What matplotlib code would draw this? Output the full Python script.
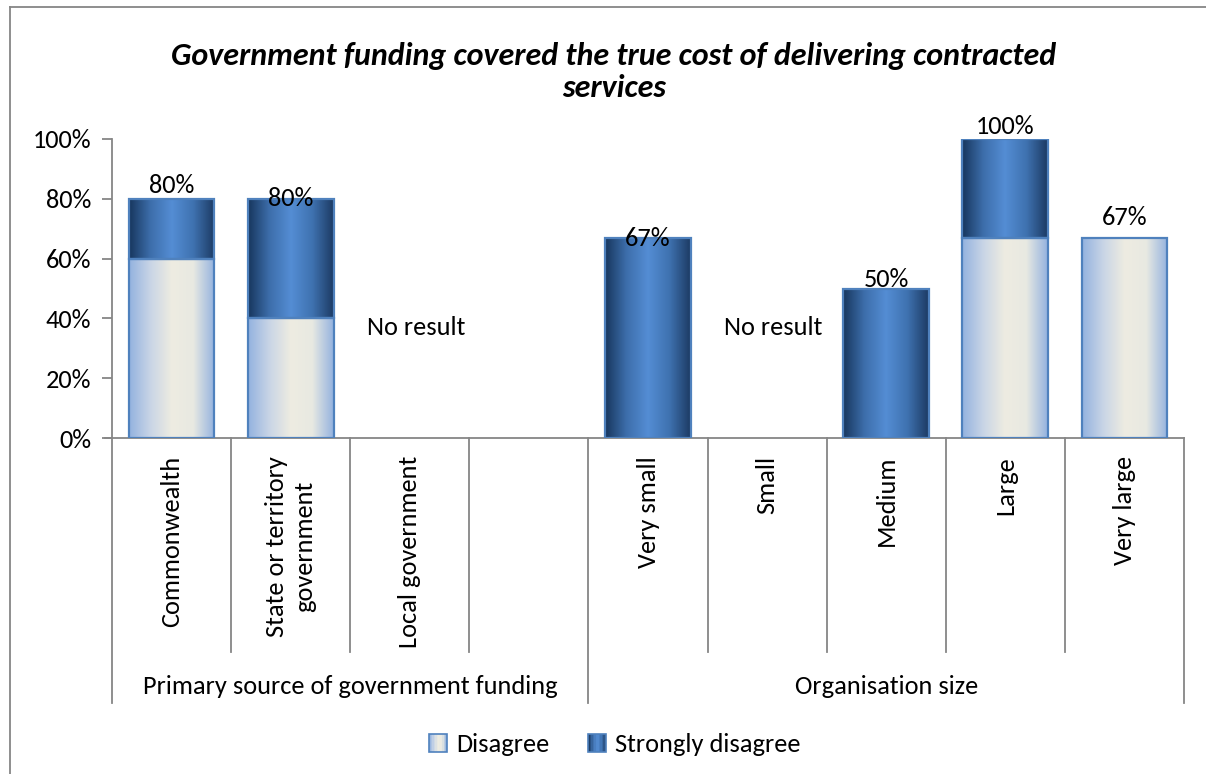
import numpy as np
import matplotlib
matplotlib.use("Agg")
import matplotlib.pyplot as plt
from matplotlib import font_manager as fm
from matplotlib.colors import LinearSegmentedColormap
from matplotlib.patches import Rectangle, Patch
from matplotlib.lines import Line2D
from matplotlib.legend_handler import HandlerBase
from matplotlib.transforms import blended_transform_factory

# ---------------- data ----------------
title = "Government funding covered the true cost of delivering contracted\nservices"
categories = ["Commonwealth", "State or territory\ngovernment", "Local government", "",
              "Very small", "Small", "Medium", "Large", "Very large"]
groups = ["Primary source of government funding", "Organisation size"]
group_spans = [(0, 3), (4, 8)]          # first and last category index of each group
disagree = [0.60, 0.40, 0.0, 0.0, 0.0, 0.0, 0.0, 0.67, 0.67]
strongly_disagree = [0.20, 0.40, 0.0, 0.0, 0.67, 0.0, 0.50, 0.33, 0.0]
no_result = ["Local government", "Small"]
series_names = ["Disagree", "Strongly disagree"]
yticks = [0, 0.2, 0.4, 0.6, 0.8, 1.0]
ytick_labels = ["0%", "20%", "40%", "60%", "80%", "100%"]

# label vertical nudges (pixels, centre of label relative to bar top) - style only
label_dy = [13, 0, 0, 0, -1, 0, 9, 12, 20]

# ---------------- fonts ----------------
avail = {f.name for f in fm.fontManager.ttflist}
font = "Lato"
for cand in ["Carlito", "Calibri", "Lato", "Open Sans"]:
    if cand in avail:
        font = cand
        break
plt.rcParams["font.family"] = [font, "DejaVu Sans"]
FS = 19 if font in ("Carlito", "Calibri") else 17.3
TFS = 23 if font in ("Carlito", "Calibri") else 20.6

W, H = 1206, 774
fig = plt.figure(figsize=(W / 100, H / 100), dpi=100)
x_left, x_right, y_base, y_top = 112, 1184, 438, 139
ax = fig.add_axes([x_left / W, 1 - y_base / H, (x_right - x_left) / W, (y_base - y_top) / H])

GRAY = "#868686"
EDGE = "#4f81bd"
cm_dis = LinearSegmentedColormap.from_list("dis", ["#93b2df", "#c9d5e6", "#eeece1", "#e8e9e2", "#93b2df"])
cm_str = LinearSegmentedColormap.from_list("str", ["#17365d", "#3d6eab", "#548dd4", "#3f72b0", "#1c3a63"])
grad = np.linspace(0, 1, 256).reshape(1, -1)

x = np.arange(len(categories))
width = 0.72
b1 = ax.bar(x, disagree, width, facecolor="none", edgecolor=EDGE, linewidth=1.6, zorder=3)
b2 = ax.bar(x, strongly_disagree, width, bottom=disagree, facecolor="none",
            edgecolor=EDGE, linewidth=1.6, zorder=3)

for bars, cmap in ((b1, cm_dis), (b2, cm_str)):
    for p in bars:
        if p.get_height() <= 0:
            p.set_visible(False)
            continue
        x0, y0 = p.get_x(), p.get_y()
        im = ax.imshow(grad, extent=[x0, x0 + p.get_width(), y0, y0 + p.get_height()],
                       aspect="auto", cmap=cmap, interpolation="bilinear", zorder=2)
        im.set_clip_path(p)

ax.set_xlim(-0.5, len(categories) - 0.5)
ax.set_ylim(0, 1)
ax.set_aspect("auto")

# data labels
for i, (d, s) in enumerate(zip(disagree, strongly_disagree)):
    tot = d + s
    if tot > 0:
        ax.annotate(f"{round(tot * 100):.0f}%", (i, tot), xytext=(0, label_dy[i] * 0.72),
                    textcoords="offset points", ha="center", va="center",
                    fontsize=FS, zorder=5, annotation_clip=False)

for name in no_result:
    i = categories.index(name)
    ax.text(i + 0.05, 0.37, "No result", ha="center", va="center", fontsize=FS)

# axes styling
for s in ("top", "right"):
    ax.spines[s].set_visible(False)
ax.spines["left"].set_color(GRAY)
ax.spines["bottom"].set_color(GRAY)
ax.spines["left"].set_linewidth(1.3)
ax.spines["bottom"].set_linewidth(1.3)
ax.set_yticks(yticks)
ax.set_yticklabels(ytick_labels)
ax.tick_params(axis="y", length=7, width=1.3, color=GRAY, labelsize=FS, pad=8)
ax.set_xticks([])

# category axis with separators
tr = blended_transform_factory(ax.transData, ax.transAxes)
ax_h = y_base - y_top
y_cat_bottom = -(652 - y_base) / ax_h
y_grp_bottom = -(703 - y_base) / ax_h
group_edges = set()
for a, b in group_spans:
    group_edges.add(a - 0.5)
    group_edges.add(b + 0.5)
for e in np.arange(-0.5, len(categories), 1.0):
    yb = y_grp_bottom if e in group_edges else y_cat_bottom
    ax.add_line(Line2D([e, e], [0, yb], transform=tr, color=GRAY, lw=1.3, clip_on=False))
ax.add_line(Line2D([-0.5 - 0.06, -0.5], [0, 0], transform=tr, color=GRAY, lw=1.3, clip_on=False))

y_cat_text = -(456 - y_base) / ax_h
for i, c in enumerate(categories):
    if c:
        ax.text(i, y_cat_text, c, transform=tr, rotation=90, ha="center", va="top",
                multialignment="center", fontsize=FS, linespacing=1.3)
y_grp_text = -(687 - y_base) / ax_h
for g, (a, b) in zip(groups, group_spans):
    ax.text((a + b) / 2, y_grp_text, g, transform=tr, ha="center", va="center", fontsize=FS)

# title
fig.text(614 / W, 1 - 72 / H, title, ha="center", va="center", fontsize=TFS,
         fontweight="bold", fontstyle="italic", linespacing=1.2)

# outer frame
fig.add_artist(Line2D([10 / W, 10 / W], [0, 1 - 7 / H], color=GRAY, lw=1.3))
fig.add_artist(Line2D([10 / W, 1], [1 - 7 / H, 1 - 7 / H], color=GRAY, lw=1.3))


# legend with gradient swatches
class GradHandler(HandlerBase):
    def __init__(self, cmap):
        super().__init__()
        self.cmap = cmap

    def create_artists(self, legend, orig_handle, xdescent, ydescent, width, height, fontsize, trans):
        size = height * 1.0
        x0 = -xdescent + (width - size) / 2
        y0 = -ydescent + (height - size) / 2
        arts = []
        n = 12
        for k in range(n):
            arts.append(Rectangle((x0 + k * size / n, y0), size / n + 0.3, size,
                                  facecolor=self.cmap((k + 0.5) / n), edgecolor="none",
                                  transform=trans))
        arts.append(Rectangle((x0, y0), size, size, facecolor="none", edgecolor=EDGE,
                              lw=1.2, transform=trans))
        return arts


h1, h2 = Patch(label=series_names[0]), Patch(label=series_names[1])
fig.legend(handles=[h1, h2], labels=series_names, loc="center",
           bbox_to_anchor=(615 / W, 1 - 745 / H), ncol=2, frameon=False, fontsize=FS,
           handlelength=0.65, handleheight=0.65, handletextpad=0.35, columnspacing=1.5,
           handler_map={h1: GradHandler(cm_dis), h2: GradHandler(cm_str)})

fig.savefig("out.png", dpi=100)
